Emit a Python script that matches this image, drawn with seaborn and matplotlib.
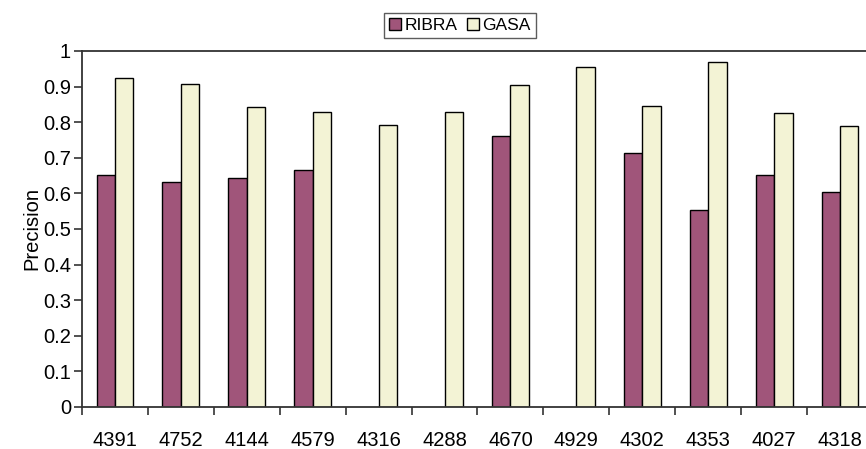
import numpy as np
import pandas as pd
import matplotlib
matplotlib.use("Agg")
import matplotlib.pyplot as plt
import seaborn as sns

# Per-query precision of the two systems
queries = ["4391", "4752", "4144", "4579", "4316", "4288",
           "4670", "4929", "4302", "4353", "4027", "4318"]
ribra = [0.652, 0.632, 0.643, 0.665, np.nan, np.nan,
         0.762, np.nan, 0.713, 0.554, 0.653, 0.603]
gasa = [0.924, 0.907, 0.842, 0.830, 0.791, 0.830,
        0.904, 0.955, 0.846, 0.968, 0.827, 0.789]
series = ["RIBRA", "GASA"]
colors = {"RIBRA": "#A0557A", "GASA": "#F3F3D5"}
yticks = [0, 0.1, 0.2, 0.3, 0.4, 0.5, 0.6, 0.7, 0.8, 0.9, 1]

df = pd.DataFrame({
    "query": queries * 2,
    "system": ["RIBRA"] * len(queries) + ["GASA"] * len(queries),
    "precision": ribra + gasa,
})

sns.set_style("white")
plt.rcParams["font.family"] = ["Liberation Sans", "DejaVu Sans"]
plt.rcParams["text.color"] = "black"
plt.rcParams["axes.labelcolor"] = "black"
plt.rcParams["xtick.labelcolor"] = "black"
plt.rcParams["ytick.labelcolor"] = "black"

fig = plt.figure(figsize=(8.66, 4.49), dpi=100)
ax = fig.add_axes([82 / 866, 42 / 449, 791 / 866, 356 / 449])

sns.barplot(data=df, x="query", y="precision", hue="system",
            order=queries, hue_order=series, palette=colors,
            saturation=1, width=0.56, edgecolor="black", linewidth=1.0,
            errorbar=None, legend=False, ax=ax)

ax.set_xlim(-0.5, len(queries) - 0.5)
ax.set_ylim(0, 1)
ax.set_yticks(yticks)
ax.set_yticklabels([f"{v:g}" for v in yticks])
ax.set_xlabel("")
ax.set_ylabel("Precision", fontsize=14.5, labelpad=1)

# Category labels sit between tick marks placed at the group boundaries
ax.set_xticks(np.arange(len(queries) + 1) - 0.5, minor=True)
ax.tick_params(axis="x", which="minor", direction="out", length=6,
               width=1.2, color="#333333", bottom=True)
ax.tick_params(axis="x", which="major", length=0, pad=17, labelsize=14.5)
ax.tick_params(axis="y", direction="out", length=6, width=1.2,
               color="#333333", left=True, pad=2, labelsize=14.5)

for side in ["left", "bottom", "top"]:
    ax.spines[side].set_visible(True)
    ax.spines[side].set_color("#333333")
    ax.spines[side].set_linewidth(1.3)
ax.spines["right"].set_visible(False)

handles = [plt.Rectangle((0, 0), 1, 1, facecolor=colors[s],
                         edgecolor="black", linewidth=1.0) for s in series]
leg = fig.legend(handles, series, loc="center", ncol=2,
                 bbox_to_anchor=(460 / 866, 1 - 25.5 / 449),
                 fontsize=12.5, frameon=True, fancybox=False,
                 handlelength=0.7, handleheight=0.7, handletextpad=0.2,
                 columnspacing=0.5, borderpad=0.3, borderaxespad=0)
leg.get_frame().set_edgecolor("#333333")
leg.get_frame().set_linewidth(1.0)

fig.savefig("out.png", dpi=100)
